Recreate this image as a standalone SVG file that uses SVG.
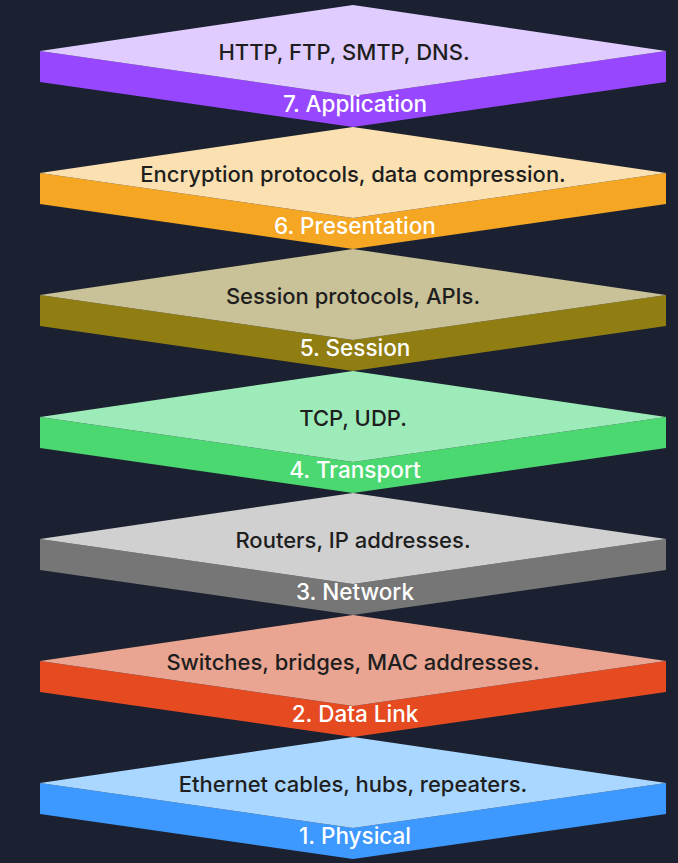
<svg xmlns="http://www.w3.org/2000/svg" width="678" height="863" viewBox="0 0 678 863">
<style>
.desc{font-family:Inter,"Noto Sans","Liberation Sans",sans-serif;font-size:22px;font-weight:500;fill:#1e1e1e;text-anchor:middle}
.lbl{font-family:Inter,"Noto Sans","Liberation Sans",sans-serif;font-size:22.5px;font-weight:500;fill:#ffffff;text-anchor:middle}
</style>
<defs>
<path id="side" d="M40,46 L40,77 L353,122 L666,77 L666,46 L353,91 Z"/>
<path id="top" d="M353,0 L666,46 L353,91 L40,46 Z"/>
</defs>
<rect width="678" height="863" fill="#1b2130"/>
<g id="layer7" transform="translate(0,5)">
<use href="#side" fill="#9747ff"/><use href="#top" fill="#e0ccfe"/>
<text class="desc" x="344" y="55">HTTP, FTP, SMTP, DNS.</text>
<text class="lbl" x="355" y="107">7. Application</text>
</g>
<g id="layer6" transform="translate(0,127)">
<use href="#side" fill="#f5a623"/><use href="#top" fill="#fbe0b2"/>
<text class="desc" x="353" y="55">Encryption protocols, data compression.</text>
<text class="lbl" x="355" y="107">6. Presentation</text>
</g>
<g id="layer5" transform="translate(0,249)">
<use href="#side" fill="#917e12"/><use href="#top" fill="#c9c198"/>
<text class="desc" x="353" y="55">Session protocols, APIs.</text>
<text class="lbl" x="355" y="107">5. Session</text>
</g>
<g id="layer4" transform="translate(0,371)">
<use href="#side" fill="#4cd870"/><use href="#top" fill="#9debb9"/>
<text class="desc" x="353" y="55">TCP, UDP.</text>
<text class="lbl" x="355" y="107">4. Transport</text>
</g>
<g id="layer3" transform="translate(0,493)">
<use href="#side" fill="#767676"/><use href="#top" fill="#d0d0d0"/>
<text class="desc" x="353" y="55">Routers, IP addresses.</text>
<text class="lbl" x="355" y="107">3. Network</text>
</g>
<g id="layer2" transform="translate(0,615)">
<use href="#side" fill="#e54a21"/><use href="#top" fill="#e9a592"/>
<text class="desc" x="353" y="55">Switches, bridges, MAC addresses.</text>
<text class="lbl" x="355" y="107">2. Data Link</text>
</g>
<g id="layer1" transform="translate(0,737)">
<use href="#side" fill="#3d99ff"/><use href="#top" fill="#aad7ff"/>
<text class="desc" x="353" y="55">Ethernet cables, hubs, repeaters.</text>
<text class="lbl" x="355" y="107">1. Physical</text>
</g>
</svg>
